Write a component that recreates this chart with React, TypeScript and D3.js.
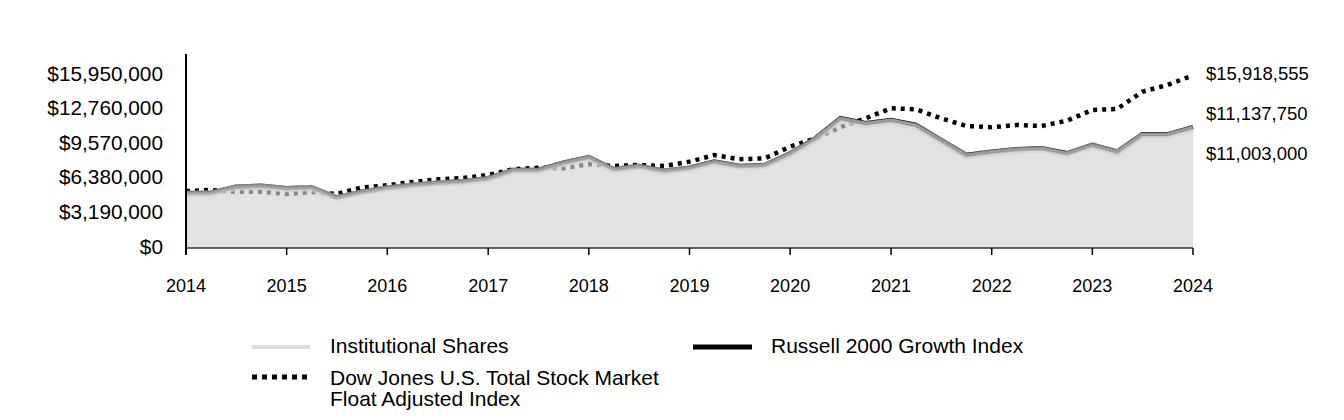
import React from "react";
import * as d3 from "d3";

const quarterLabels: string[] = [
  "2014-01","2014-04","2014-07","2014-10","2015-01","2015-04","2015-07","2015-10",
  "2016-01","2016-04","2016-07","2016-10","2017-01","2017-04","2017-07","2017-10",
  "2018-01","2018-04","2018-07","2018-10","2019-01","2019-04","2019-07","2019-10",
  "2020-01","2020-04","2020-07","2020-10","2021-01","2021-04","2021-07","2021-10",
  "2022-01","2022-04","2022-07","2022-10","2023-01","2023-04","2023-07","2023-10",
  "2024-01",
];

const institutional: number[] = [
  5000000, 5020000, 5560000, 5650000, 5420000, 5520000, 4600000, 5110000,
  5480000, 5730000, 5940000, 6060000, 6340000, 7090000, 7090000, 7760000,
  8280000, 7160000, 7460000, 7030000, 7300000, 7860000, 7460000, 7550000,
  8620000, 9980000, 11820000, 11360000, 11660000, 11200000, 9830000, 8450000,
  8760000, 8980000, 9070000, 8610000, 9380000, 8760000, 10350000, 10350000,
  11003000,
];

const russell: number[] = [
  5080000, 5100000, 5650000, 5740000, 5500000, 5600000, 4670000, 5190000,
  5560000, 5810000, 6020000, 6150000, 6430000, 7190000, 7190000, 7860000,
  8390000, 7260000, 7560000, 7130000, 7400000, 7960000, 7560000, 7650000,
  8730000, 10110000, 11960000, 11500000, 11800000, 11340000, 9960000, 8570000,
  8880000, 9100000, 9190000, 8730000, 9500000, 8880000, 10480000, 10480000,
  11137750,
];

const dowJones: number[] = [
  5250000, 5350000, 5190000, 5190000, 4980000, 5160000, 4980000, 5580000,
  5780000, 6080000, 6330000, 6450000, 6730000, 7260000, 7400000, 7350000,
  7740000, 7560000, 7650000, 7560000, 7960000, 8570000, 8180000, 8270000,
  9340000, 10110000, 11130000, 11960000, 12880000, 12790000, 11960000, 11250000,
  11130000, 11340000, 11250000, 11740000, 12720000, 12820000, 14410000, 15030000,
  15918555,
];

const yTicks: number[] = [0, 3190000, 6380000, 9570000, 12760000, 15950000];
const xTickYears: number[] = [2014, 2015, 2016, 2017, 2018, 2019, 2020, 2021, 2022, 2023, 2024];
const endLabels: string[] = ["$15,918,555", "$11,137,750", "$11,003,000"];

const seriesNames = {
  inst: "Institutional Shares",
  russell: "Russell 2000 Growth Index",
  dow1: "Dow Jones U.S. Total Stock Market",
  dow2: "Float Adjusted Index",
};

const FONT = "'Liberation Sans', Arial, sans-serif";

export default function App() {
  const W = 1344;
  const H = 420;
  const parse = d3.timeParse("%Y-%m");
  const dates = quarterLabels.map((s) => parse(s) as Date);

  const x = d3
    .scaleTime()
    .domain([new Date(2014, 0, 1), new Date(2024, 0, 1)])
    .range([186, 1193]);
  const y = d3.scaleLinear().domain([0, 15950000]).range([248, 75]);
  const yTop = 54;

  const fmt = (v: number) => "$" + d3.format(",")(v);

  const lineGen = (vals: number[]) =>
    d3
      .line<number>()
      .x((_, i) => x(dates[i]))
      .y((v) => y(v))(vals) as string;

  const areaPath = d3
    .area<number>()
    .x((_, i) => x(dates[i]))
    .y0(y(0))
    .y1((v) => y(v))(institutional) as string;

  return (
    <svg
      width={W}
      height={H}
      style={{ position: "absolute", left: 0, top: 0, background: "#fff" }}
      fontFamily={FONT}
    >
      {/* Dow Jones dotted */}
      <path
        d={lineGen(dowJones)}
        fill="none"
        stroke="#000"
        strokeWidth={4.5}
        strokeDasharray="4,5"
      />
      {/* Russell line */}
      <path d={lineGen(russell)} fill="none" stroke="#000" strokeWidth={4.5} />
      {/* Institutional area */}
      <path d={areaPath} fill="#d2d2d2" fillOpacity={0.64} />
      <path
        d={lineGen(institutional)}
        fill="none"
        stroke="#d0d0d0"
        strokeOpacity={0.62}
        strokeWidth={6.5}
      />
      <path
        d={lineGen(russell)}
        fill="none"
        stroke="#d8d8d8"
        strokeOpacity={0.35}
        strokeWidth={2}
      />

      {/* Axes */}
      <line x1={186} x2={1193} y1={y(0)} y2={y(0)} stroke="#333" strokeWidth={1.5} />
      <line x1={186} x2={186} y1={yTop} y2={255} stroke="#000" strokeWidth={2} />
      {xTickYears.map((yr) => (
        <g key={yr}>
          <line
            x1={x(new Date(yr, 0, 1))}
            x2={x(new Date(yr, 0, 1))}
            y1={y(0)}
            y2={255}
            stroke="#000"
            strokeWidth={1.5}
          />
          <text
            x={x(new Date(yr, 0, 1))}
            y={287}
            textAnchor="middle"
            dominantBaseline="middle"
            fontSize={18}
            fill="#000"
          >
            {yr}
          </text>
        </g>
      ))}
      {yTicks.map((t) => (
        <text
          key={t}
          x={163}
          y={y(t)}
          textAnchor="end"
          dominantBaseline="middle"
          fontSize={20.8}
          fill="#000"
        >
          {fmt(t)}
        </text>
      ))}

      {/* End labels */}
      {endLabels.map((s, i) => (
        <text
          key={s}
          x={1206}
          y={75 + i * 40}
          dominantBaseline="middle"
          fontSize={18.5}
          fill="#000"
        >
          {s}
        </text>
      ))}

      {/* Legend */}
      <line x1={252} x2={310} y1={347} y2={347} stroke="#dcdcdc" strokeWidth={4} />
      <text x={330} y={347} dominantBaseline="middle" fontSize={21} fill="#000">
        {seriesNames.inst}
      </text>
      <line x1={693} x2={752} y1={347} y2={347} stroke="#000" strokeWidth={5} />
      <text x={771} y={347} dominantBaseline="middle" fontSize={21} fill="#000">
        {seriesNames.russell}
      </text>
      <line
        x1={252}
        x2={310}
        y1={377}
        y2={377}
        stroke="#000"
        strokeWidth={5}
        strokeDasharray="5,5"
      />
      <text x={330} y={379} dominantBaseline="middle" fontSize={21} fill="#000">
        {seriesNames.dow1}
      </text>
      <text x={330} y={400} dominantBaseline="middle" fontSize={21} fill="#000">
        {seriesNames.dow2}
      </text>
    </svg>
  );
}
